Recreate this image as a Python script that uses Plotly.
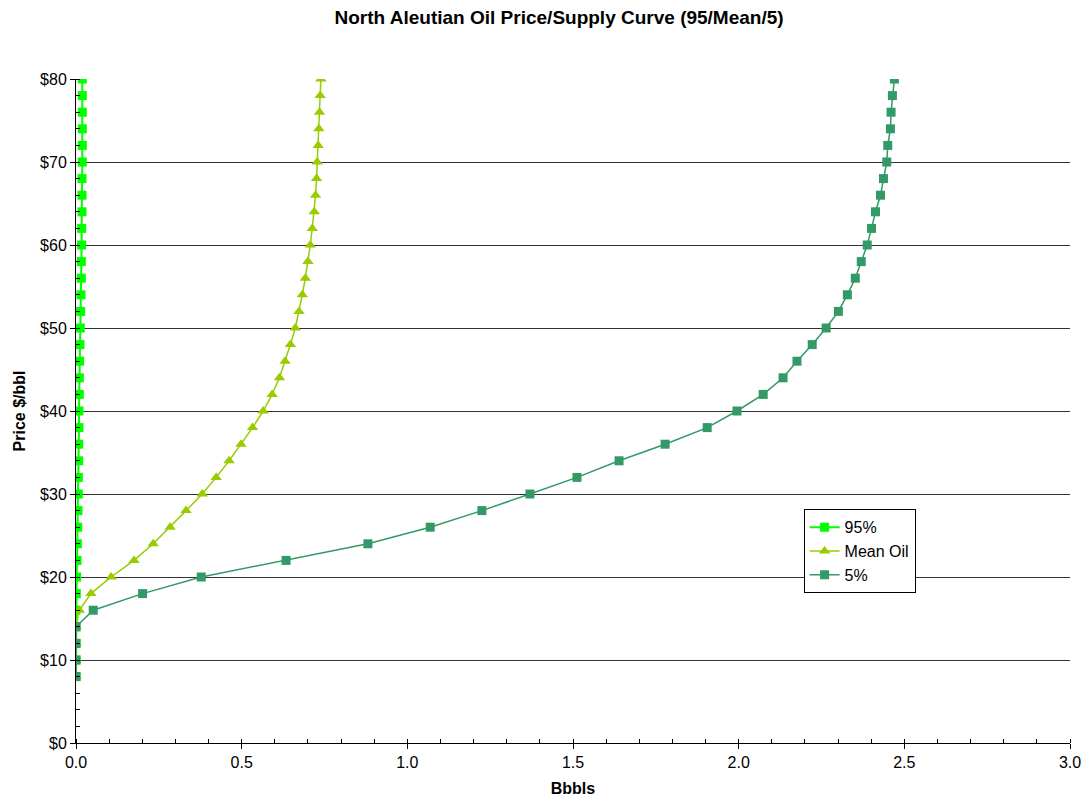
import plotly.graph_objects as go

prices = [8, 10, 12, 14, 16, 18, 20, 22, 24, 26, 28, 30, 32, 34, 36, 38, 40, 42, 44, 46,
          48, 50, 52, 54, 56, 58, 60, 62, 64, 66, 68, 70, 72, 74, 76, 78, 80]

p95 = [0.0, 0.0, 0.0, 0.0, 0.0, 0.001, 0.002, 0.003, 0.004, 0.005, 0.006, 0.007, 0.007, 0.008,
       0.008, 0.009, 0.009, 0.010, 0.010, 0.011, 0.012, 0.013, 0.014, 0.015, 0.016, 0.016,
       0.017, 0.017, 0.018, 0.018, 0.018, 0.019, 0.019, 0.019, 0.019, 0.019, 0.019]

mean_oil = [0.0, 0.0, 0.0, 0.0, 0.010, 0.045, 0.106, 0.175, 0.233, 0.284, 0.332, 0.381, 0.423,
            0.462, 0.498, 0.533, 0.565, 0.592, 0.614, 0.631, 0.647, 0.662, 0.673, 0.683,
            0.692, 0.700, 0.707, 0.713, 0.719, 0.723, 0.726, 0.728, 0.731, 0.733, 0.735,
            0.737, 0.739]

p5 = [0.0, 0.0, 0.0, 0.0, 0.052, 0.201, 0.378, 0.634, 0.881, 1.069, 1.225, 1.370, 1.512,
      1.639, 1.778, 1.905, 1.995, 2.074, 2.134, 2.176, 2.222, 2.264, 2.301, 2.328, 2.352,
      2.370, 2.388, 2.401, 2.413, 2.428, 2.437, 2.447, 2.450, 2.458, 2.460, 2.464, 2.470]

y_ticks = [0, 10, 20, 30, 40, 50, 60, 70, 80]
y_labels = ["$0", "$10", "$20", "$30", "$40", "$50", "$60", "$70", "$80"]
x_ticks = [0.0, 0.5, 1.0, 1.5, 2.0, 2.5, 3.0]
x_labels = ["0.0", "0.5", "1.0", "1.5", "2.0", "2.5", "3.0"]

FONT = "Liberation Sans, Arial, sans-serif"

fig = go.Figure()
fig.add_trace(go.Scatter(
    x=p95, y=prices, name="95%", mode="lines+markers",
    line=dict(color="#00FF00", width=2),
    marker=dict(symbol="square", size=9, color="#00FF00"),
))
fig.add_trace(go.Scatter(
    x=mean_oil, y=prices, name="Mean Oil", mode="lines+markers",
    line=dict(color="#99CC00", width=1.5),
    marker=dict(symbol="triangle-up", size=10, color="#99CC00"),
))
fig.add_trace(go.Scatter(
    x=p5, y=prices, name="5%", mode="lines+markers",
    line=dict(color="#339966", width=1.5),
    marker=dict(symbol="square", size=9, color="#339966"),
))

fig.update_layout(
    width=1084, height=810,
    margin=dict(l=76, r=14, t=79, b=67),
    paper_bgcolor="white", plot_bgcolor="white",
    font=dict(family=FONT, size=14, color="black"),
    title=dict(text="<b>North Aleutian Oil Price/Supply Curve (95/Mean/5)</b>",
               font=dict(family=FONT, size=19, color="black"),
               xref="paper", x=0.486, xanchor="center", y=0.978, yanchor="middle"),
    showlegend=True,
    legend=dict(x=0.732, y=0.352, xanchor="left", yanchor="top",
                bgcolor="white", bordercolor="black", borderwidth=1,
                font=dict(family=FONT, size=16, color="black"),
                tracegroupgap=0, itemwidth=30),
)

fig.update_xaxes(
    range=[0, 3.0], tickvals=x_ticks, ticktext=x_labels, automargin=False,
    showgrid=False, zeroline=False,
    showline=True, linecolor="black", linewidth=1,
    ticks="outside", ticklen=5, tickcolor="black",
    minor=dict(ticks="inside", ticklen=4, dtick=0.1, tickcolor="black", showgrid=False),
    title=dict(text="<b>Bbbls</b>", font=dict(family=FONT, size=16, color="black"), standoff=12),
    tickfont=dict(family=FONT, size=16, color="black"),
)
fig.update_yaxes(
    range=[0, 80], tickvals=y_ticks, ticktext=y_labels, automargin=False,
    showgrid=True, gridcolor="#333333", gridwidth=1, zeroline=False,
    showline=True, linecolor="black", linewidth=1,
    ticks="outside", ticklen=5, tickcolor="black",
    minor=dict(ticks="inside", ticklen=4, dtick=2, tickcolor="black", showgrid=False),
    title=dict(text="<b>Price $/bbl</b>", font=dict(family=FONT, size=16, color="black"), standoff=10),
    tickfont=dict(family=FONT, size=16, color="black"),
)

fig.write_html("out.html")
